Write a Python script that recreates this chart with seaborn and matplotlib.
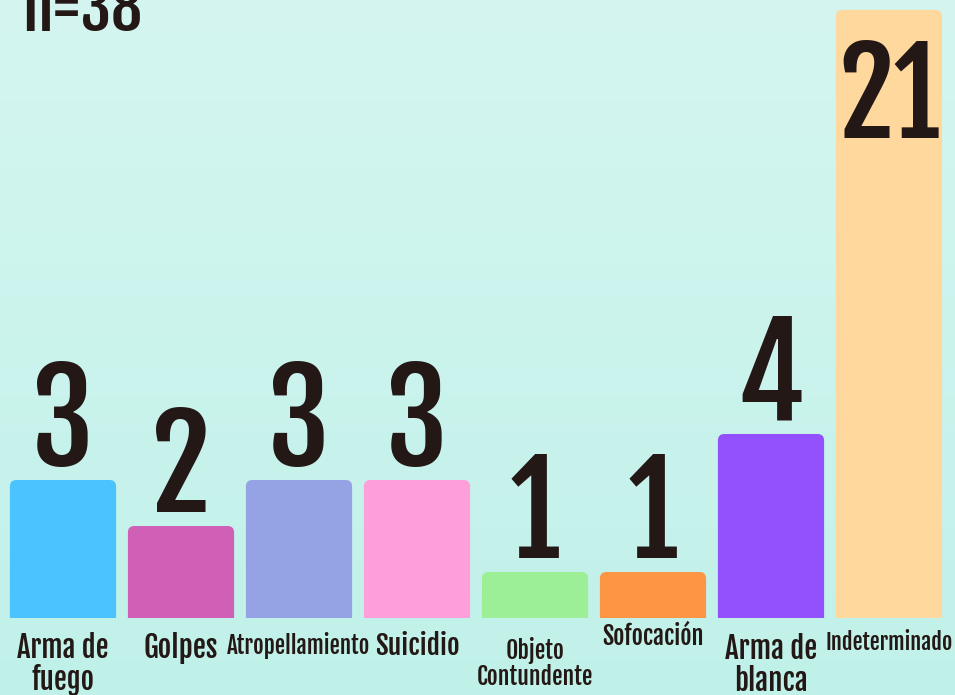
import matplotlib
matplotlib.use("Agg")
import matplotlib.pyplot as plt
import seaborn as sns
import numpy as np
import pandas as pd
from matplotlib import font_manager
from matplotlib.font_manager import FontProperties
from matplotlib.textpath import TextPath
from matplotlib.patches import FancyBboxPatch, Rectangle

sns.set_style("white")

# data
categories = ["Arma de\nfuego", "Golpes", "Atropellamiento", "Suicidio",
              "Objeto\nContundente", "Sofocación", "Arma de\nblanca", "Indeterminado"]
values = [3, 2, 3, 3, 1, 1, 4, 21]
bar_colors = ["#4BC4FE", "#D060B5", "#95A3E4", "#FE9FD9",
              "#9CEF96", "#FD9644", "#9351FE", "#FED89D"]
total_label = "n=38"
display_cap = 13.22  # tallest bar is cut to fit the frame

names = {f.name for f in font_manager.fontManager.ttflist}
wanted = ["Fjalla One", "Oswald", "Fira Sans Extra Condensed", "DejaVu Sans"]
fam = [f for f in wanted if f in names][0]
plt.rcParams["font.family"] = [fam, "DejaVu Sans"]
ink = "#231815"
DPI = 100
FP = FontProperties(family=fam)


def fsize(px, s="H"):
    # font size (pt) that gives glyphs of s about px pixels tall
    h = TextPath((0, 0), s, size=100, prop=FP).get_extents().height
    return px * 72 / DPI / (h / 100)


def fwidth(px, s):
    # font size (pt) so the widest line of s is about px pixels wide
    w = max(TextPath((0, 0), ln, size=100, prop=FP).get_extents().width
            for ln in s.split("\n"))
    return px * 72 / DPI / (w / 100)


df = pd.DataFrame({"cat": categories, "val": values})
df["shown"] = df["val"].clip(upper=display_cap)

fig = plt.figure(figsize=(9.55, 6.95), dpi=DPI)
bg = fig.add_axes([0, 0, 1, 1])
grad = np.linspace(0, 1, 256).reshape(-1, 1)
top = np.array([213, 246, 240]) / 255
bot = np.array([192, 241, 233]) / 255
img = top + (bot - top) * grad[:, :, None]
bg.imshow(img, aspect="auto", extent=[0, 1, 0, 1])
bg.axis("off")

ax = fig.add_axes([0, 0, 1, 1])
ax.patch.set_alpha(0)
sns.barplot(data=df, x="cat", y="shown", hue="cat", palette=bar_colors,
            legend=False, width=0.9, saturation=1, ax=ax)

px_x = 118.0
px_y = 46.0
ax.set_xlim(-63 / px_x, 7 + 66 / px_x)
ax.set_ylim(-77 / px_y, 618 / px_y)

# swap plain bars for rounded ones
clip = Rectangle((-1, 0), 20, 100, transform=ax.transData)
for p in list(ax.patches):
    x0, w, h, c = p.get_x(), p.get_width(), p.get_height(), p.get_facecolor()
    p.remove()
    rb = FancyBboxPatch((x0, -0.3), w, h + 0.3,
                        boxstyle="round,pad=0,rounding_size=0.055",
                        mutation_aspect=px_x / px_y, fc=c, ec="none")
    ax.add_patch(rb)
    rb.set_clip_path(clip)

# value labels
num_fs = fsize(106, "3")
gap = 14 / px_y
for i, (v, s) in enumerate(zip(values, df["shown"])):
    if v > display_cap:
        big = min(fsize(113, "3"), fwidth(96, str(v)))
        ax.text(i, s - 128 / px_y, str(v), ha="center", va="baseline",
                fontsize=big, color=ink)
    else:
        ax.text(i, s + gap, str(v), ha="center", va="baseline", fontsize=num_fs,
                color=ink)

# category labels: first-line baseline (pixel row) and width vary like the original
lab_base = [656, 658, 654, 655, 651, 645, 657, 650]
lab_w = [90, 72, 142, 82, 114, 100, 91, 125]
line_gap = 34
for i, (c, b, wd) in enumerate(zip(categories, lab_base, lab_w)):
    last = b + line_gap * c.count("\n")
    ax.text(i, (618 - last) / px_y, c, ha="center", va="baseline",
            fontsize=fwidth(wd, c), color=ink, linespacing=1.0)

ax.axis("off")
fig.text(22 / 955, 1 - 31 / 695, total_label, ha="left", va="baseline",
         fontsize=fwidth(114, total_label), color=ink)

fig.savefig("out.png", dpi=DPI)
